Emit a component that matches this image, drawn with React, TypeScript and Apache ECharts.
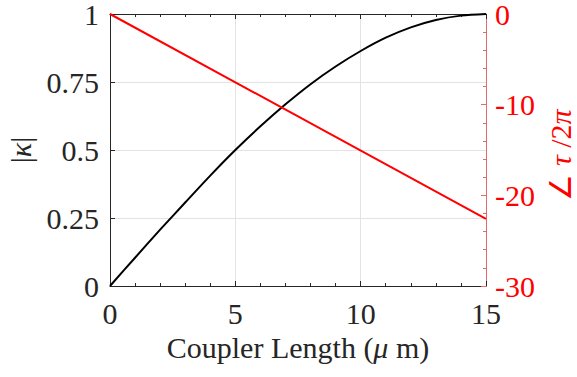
import React, { useEffect, useRef } from "react";
import * as echarts from "echarts";

const couplerLength = [0, 1, 2, 3, 4, 5, 6, 7, 8, 9, 10, 11, 12, 13, 14, 15];
const kappaMag = [0, 0.104, 0.207, 0.307, 0.406, 0.5, 0.587, 0.668, 0.742, 0.807, 0.864, 0.913, 0.951, 0.978, 0.994, 1.0];
const phaseLength = [0, 15];
const phaseTau = [0, -22.6];

const xTicks = { min: 0, max: 15, interval: 5 };
const leftTicks = { min: 0, max: 1, interval: 0.25 };
const rightTicks = { min: -30, max: 0, interval: 10 };

const FONT = "'Liberation Serif', 'Times New Roman', serif";

export default function App() {
  const ref = useRef<HTMLDivElement>(null);
  useEffect(() => {
    if (!ref.current) return;
    const chart = echarts.init(ref.current, null, { renderer: "svg" });
    const kappaData = couplerLength.map((x, i) => [x, kappaMag[i]]);
    const tauData = phaseLength.map((x, i) => [x, phaseTau[i]]);
    chart.setOption({
      animation: false,
      backgroundColor: "#ffffff",
      grid: { left: 110, right: 91, top: 14, bottom: 91, containLabel: false, outerBoundsMode: "none" },
      xAxis: [
        {
          type: "value",
          position: "bottom",
          min: xTicks.min,
          max: xTicks.max,
          interval: xTicks.interval,
          name: "Coupler Length ({i|μ} m)",
          nameLocation: "middle",
          nameGap: 38,
          nameTextStyle: {
            fontFamily: FONT,
            fontSize: 30,
            color: "#262626",
            rich: { i: { fontFamily: FONT, fontSize: 30, fontStyle: "italic", color: "#262626" } },
          },
          axisLine: { show: true, onZero: false, lineStyle: { color: "#262626", width: 1 } },
          axisTick: { show: true, inside: true, length: 5, lineStyle: { color: "#262626" } },
          minorTick: { show: true, splitNumber: 5, length: 3, lineStyle: { color: "#262626" } },
          axisLabel: { fontFamily: FONT, fontSize: 30, color: "#262626", margin: 12 },
          splitLine: { show: true, lineStyle: { color: "#e3e3e3", width: 1 } },
        },
        {
          type: "value",
          position: "top",
          min: xTicks.min,
          max: xTicks.max,
          interval: xTicks.interval,
          axisLine: { show: true, onZero: false, lineStyle: { color: "#262626", width: 1 } },
          axisTick: { show: true, inside: true, length: 5, lineStyle: { color: "#262626" } },
          minorTick: { show: true, splitNumber: 5, length: 3, lineStyle: { color: "#262626" } },
          axisLabel: { show: false },
          splitLine: { show: false },
        },
      ],
      yAxis: [
        {
          type: "value",
          position: "left",
          min: leftTicks.min,
          max: leftTicks.max,
          interval: leftTicks.interval,
          name: "|{i|κ}|",
          nameLocation: "middle",
          nameGap: 72,
          nameTextStyle: {
            fontFamily: FONT,
            fontSize: 30,
            color: "#262626",
            rich: { i: { fontFamily: FONT, fontSize: 30, fontStyle: "italic", color: "#262626" } },
          },
          axisLine: { show: true, onZero: false, lineStyle: { color: "#262626", width: 1 } },
          axisTick: { show: true, inside: true, length: 5, lineStyle: { color: "#262626" } },
          axisLabel: {
            fontFamily: FONT,
            fontSize: 30,
            lineHeight: 20,
            color: "#262626",
            margin: 11,
            padding: [6, 0, 0, 0],
          },
          splitLine: { show: true, lineStyle: { color: "#e3e3e3", width: 1 } },
        },
        {
          type: "value",
          position: "right",
          min: rightTicks.min,
          max: rightTicks.max,
          interval: rightTicks.interval,
          name: "∠ {i|τ} /2{i|π}",
          nameLocation: "middle",
          nameGap: 57,
          nameRotate: 90,
          nameTextStyle: {
            fontFamily: FONT,
            fontSize: 30,
            color: "#ff0000",
            padding: [0, 10, 0, 0],
            rich: { i: { fontFamily: FONT, fontSize: 30, fontStyle: "italic", color: "#ff0000" } },
          },
          axisLine: { show: true, onZero: false, lineStyle: { color: "#e66a6a", width: 1 } },
          axisTick: { show: true, inside: true, length: 5, lineStyle: { color: "#e66a6a" } },
          minorTick: { show: true, splitNumber: 5, length: 3, lineStyle: { color: "#e66a6a" } },
          axisLabel: {
            fontFamily: FONT,
            fontSize: 30,
            lineHeight: 20,
            color: "#ff0000",
            margin: 9,
            padding: [3, 0, 0, 0],
          },
          splitLine: { show: false },
        },
      ],
      series: [
        {
          type: "line",
          xAxisIndex: 0,
          yAxisIndex: 0,
          data: kappaData,
          showSymbol: false,
          smooth: 0.3,
          lineStyle: { color: "#000000", width: 2 },
          z: 3,
        },
        {
          type: "line",
          xAxisIndex: 0,
          yAxisIndex: 1,
          data: tauData,
          showSymbol: false,
          lineStyle: { color: "#ff0000", width: 2 },
          z: 4,
        },
      ],
    });
    return () => chart.dispose();
  }, []);
  return (
    <div
      ref={ref}
      style={{ position: "fixed", left: 0, top: 0, width: 577, height: 377, background: "#fff" }}
    />
  );
}
